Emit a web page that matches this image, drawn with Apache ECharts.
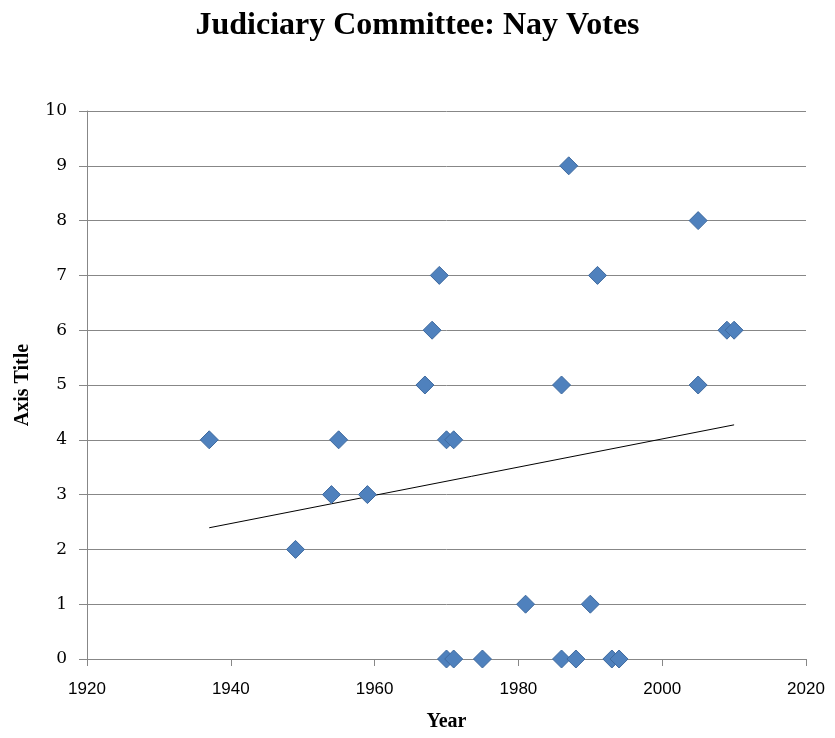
<!DOCTYPE html>
<html>
<head>
<meta charset="utf-8">
<script src="https://cdn.jsdelivr.net/npm/echarts@6/dist/echarts.min.js"></script>
<style>
  html, body { margin: 0; padding: 0; background: #fff; }
  #chart { width: 835px; height: 738px; }
</style>
</head>
<body>
<div id="chart"></div>
<script>
// Confirmation years and the number of Nay votes cast in committee
const years = [1937, 1949, 1954, 1955, 1959, 1967, 1968, 1969, 1970, 1971,
               1970, 1971, 1975, 1981, 1986, 1986, 1987, 1988, 1990, 1991,
               1993, 1994, 2005, 2005, 2009, 2010];
const nayVotes = [4, 2, 3, 4, 3, 5, 6, 7, 4, 4,
                  0, 0, 0, 1, 5, 0, 9, 0, 1, 7,
                  0, 0, 8, 5, 6, 6];
const xTicks = [1920, 1940, 1960, 1980, 2000, 2020];
const yTicks = [0, 1, 2, 3, 4, 5, 6, 7, 8, 9, 10];

// Least-squares linear trendline over the data range
function linearFit(xs, ys) {
  const n = xs.length;
  const mx = xs.reduce((a, b) => a + b, 0) / n;
  const my = ys.reduce((a, b) => a + b, 0) / n;
  let sxy = 0, sxx = 0;
  for (let i = 0; i < n; i++) {
    sxy += (xs[i] - mx) * (ys[i] - my);
    sxx += (xs[i] - mx) * (xs[i] - mx);
  }
  const slope = sxy / sxx;
  return x => my + slope * (x - mx);
}
const fit = linearFit(years, nayVotes);
const xMin = Math.min(...years), xMax = Math.max(...years);
const trend = [[xMin, fit(xMin)], [xMax, fit(xMax)]];

const points = years.map((y, i) => [y, nayVotes[i]]);

const chart = echarts.init(document.getElementById('chart'), null, { renderer: 'canvas' });
chart.setOption({
  animation: false,
  backgroundColor: '#ffffff',
  title: {
    text: 'Judiciary Committee: Nay Votes',
    left: 'center',
    top: 5,
    textStyle: {
      fontFamily: '"Liberation Serif", "DejaVu Serif", serif',
      fontWeight: 'bold',
      fontSize: 32,
      color: '#000'
    }
  },
  grid: {
    left: 87, right: 29, top: 111, bottom: 79,
    containLabel: false,
    outerBoundsMode: 'none'
  },
  xAxis: {
    type: 'value',
    min: xTicks[0],
    max: xTicks[xTicks.length - 1],
    interval: 20,
    name: 'Year',
    nameLocation: 'middle',
    nameGap: 53,
    nameTextStyle: {
      fontFamily: '"Liberation Serif", serif',
      fontWeight: 'bold',
      fontSize: 20,
      color: '#000'
    },
    axisLine: { show: true, lineStyle: { color: '#878787', width: 1 } },
    axisTick: { show: true, length: 7, inside: false, lineStyle: { color: '#878787' } },
    axisLabel: {
      margin: 22,
      formatter: v => String(v),
      fontFamily: '"Liberation Sans Narrow", "Liberation Sans", sans-serif',
      fontSize: 17,
      color: '#000'
    },
    splitLine: { show: false }
  },
  yAxis: {
    type: 'value',
    min: yTicks[0],
    max: yTicks[yTicks.length - 1],
    interval: 1,
    name: 'Axis Title',
    nameLocation: 'middle',
    nameGap: 54,
    nameRotate: 90,
    nameTextStyle: {
      fontFamily: '"Liberation Serif", serif',
      fontWeight: 'bold',
      fontSize: 20,
      color: '#000'
    },
    axisLine: { show: true, lineStyle: { color: '#878787', width: 1 } },
    axisTick: { show: true, length: 8, inside: false, lineStyle: { color: '#878787' } },
    axisLabel: {
      margin: 20,
      fontFamily: '"DejaVu Serif", "Liberation Serif", serif',
      fontSize: 17,
      color: '#000'
    },
    splitLine: { show: true, lineStyle: { color: '#878787', width: 1 } }
  },
  series: [
    {
      name: 'Nay Votes',
      type: 'scatter',
      symbol: 'diamond',
      symbolSize: 18,
      data: points,
      itemStyle: { color: '#4F81BD', borderColor: '#3F6A9F', borderWidth: 1, opacity: 1 },
      z: 3
    },
    {
      name: 'Linear trend',
      type: 'line',
      data: trend,
      symbol: 'none',
      lineStyle: { color: '#000', width: 1 },
      z: 2
    }
  ]
});
</script>
</body>
</html>
